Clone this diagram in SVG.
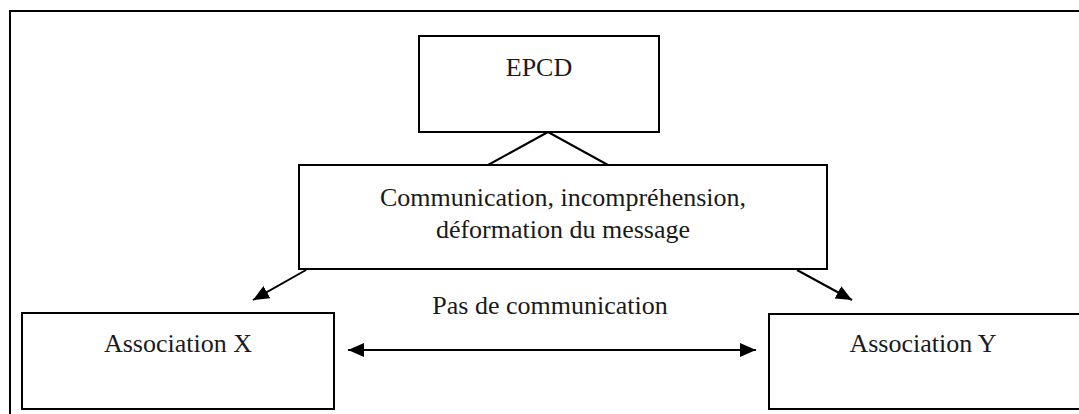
<svg xmlns="http://www.w3.org/2000/svg" width="1079" height="414" viewBox="0 0 1079 414">
  <style>
    .box { fill: #ffffff; stroke: #000000; stroke-width: 2; }
    .lbl { font-family: "Liberation Serif", "DejaVu Serif", "Noto Serif", "Nimbus Roman", "Nimbus Roman No9 L", FreeSerif, "TeX Gyre Termes", Times, Georgia, serif; font-size: 26px; fill: #1a1a1a; text-anchor: middle; }
    .conn { stroke: #000000; stroke-width: 2; fill: none; }
  </style>
  <defs>
    <marker id="arrow" markerUnits="userSpaceOnUse" markerWidth="18" markerHeight="14" refX="16" refY="7" orient="auto-start-reverse" viewBox="0 0 18 14">
      <path d="M0,0 L16,7 L0,14 Z" fill="#000000"/>
    </marker>
  </defs>
  <rect x="0" y="0" width="1079" height="414" fill="#ffffff"/>
  <path d="M1085,11 H10 V420" class="conn"/>

  <g id="connectors">
    <path d="M488,165 L548,132 L608,165" class="conn"/>
    <line x1="306" y1="270" x2="253" y2="300" class="conn" marker-end="url(#arrow)"/>
    <line x1="797" y1="270" x2="852" y2="300" class="conn" marker-end="url(#arrow)"/>
    <line x1="348" y1="350" x2="756" y2="350" class="conn" marker-start="url(#arrow)" marker-end="url(#arrow)"/>
    <text x="550" y="314" class="lbl">Pas de communication</text>
  </g>

  <g id="node-epcd">
    <rect x="419" y="36" width="240" height="96" class="box"/>
    <text x="539" y="76" class="lbl">EPCD</text>
  </g>

  <g id="node-communication">
    <rect x="299" y="165" width="528" height="104" class="box"/>
    <text x="563" y="206" class="lbl">Communication, incompréhension,</text>
    <text x="563" y="238" class="lbl">déformation du message</text>
  </g>

  <g id="node-assoc-x">
    <rect x="22" y="313" width="312" height="96" class="box"/>
    <text x="178" y="352" class="lbl">Association X</text>
  </g>

  <g id="node-assoc-y">
    <rect x="769" y="314" width="330" height="95" class="box"/>
    <text x="923" y="352" class="lbl">Association Y</text>
  </g>
</svg>
